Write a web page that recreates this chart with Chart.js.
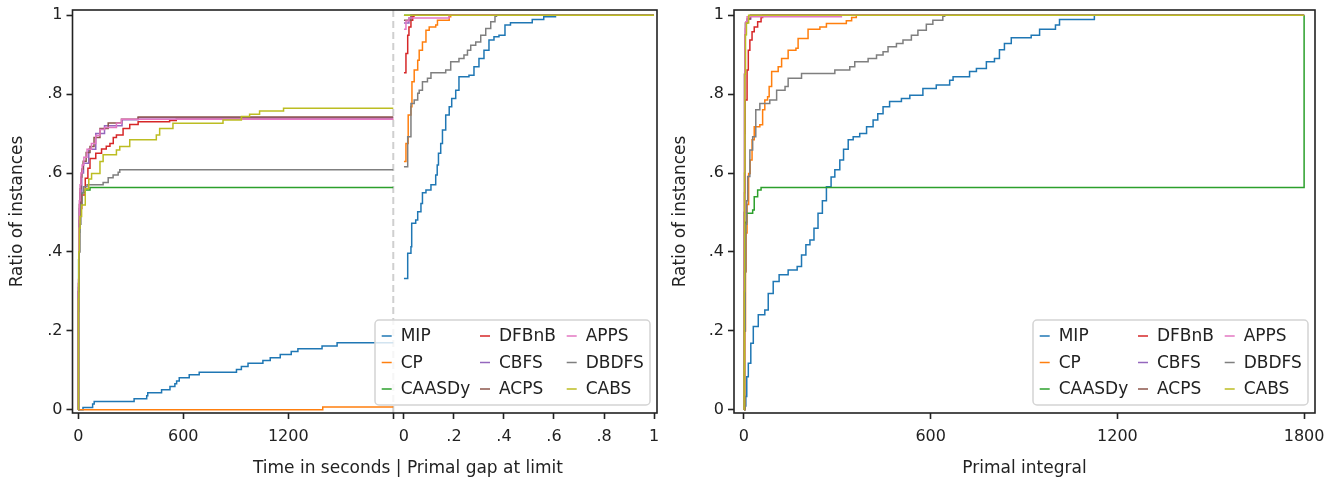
<!DOCTYPE html>
<html>
<head>
<meta charset="utf-8">
<title>Ratio of instances</title>
<script src="https://cdn.jsdelivr.net/npm/chart.js@4.4.0/dist/chart.umd.min.js"></script>
<style>
  html, body { margin: 0; padding: 0; background: #fff; }
  #wrap { position: relative; width: 1340px; height: 484px; }
  #leftChart { position: absolute; left: 0; top: 0; }
  #rightChart { position: absolute; left: 663px; top: 0; }
</style>
</head>
<body>
<div id="wrap">
  <canvas id="leftChart" width="663" height="484"></canvas>
  <canvas id="rightChart" width="677" height="484"></canvas>
</div>
<script>
/* ==========================================================================
   DATA
   ========================================================================== */
const methods = ['MIP', 'CP', 'CAASDy', 'DFBnB', 'CBFS', 'ACPS', 'APPS', 'DBDFS', 'CABS'];
const colors = ['#1f77b4', '#ff7f0e', '#2ca02c', '#d62728', '#9467bd', '#8c564b', '#e377c2', '#7f7f7f', '#bcbd22'];

const yTicks = [0, 0.2, 0.4, 0.6, 0.8, 1];
const timeTicks = [0, 600, 1200, 1800];
const gapTicks = [0, 0.2, 0.4, 0.6, 0.8, 1];
const integralTicks = [0, 600, 1200, 1800];

// left panel, first part: [seconds, ratio solved]
const timeMIP = [[0,0],[27,.006],[82,.015],[91,.021],[319,.028],[391,.036],[397,.043],[476,.051],[524,.059],[552,.066],[562,.073],[577,.081],[634,.089],[691,.095],[904,.102],[932,.110],[970,.118],[1055,.125],[1097,.132],[1154,.140],[1217,.148],[1255,.155],[1393,.162],[1479,.170],[1800,.170]];
const timeCP = [[0,0],[1397,.007],[1800,.007]];
const timeCAASDy = [[0,0],[1,.25],[2,.38],[4,.45],[8,.50],[12,.53],[20,.55],[40,.557],[67,.563],[1800,.563]];
const timeDFBnB = [[0,0],[1,.30],[3,.42],[6,.48],[11,.51],[20,.544],[40,.587],[55,.612],[67,.637],[100,.650],[133,.661],[160,.668],[181,.675],[200,.690],[218,.696],[256,.713],[294,.723],[342,.730],[522,.733],[560,.736],[1800,.736]];
const timeCBFS = [[0,0],[1,.31],[3,.44],[6,.51],[10,.55],[20,.60],[30,.625],[60,.66],[100,.70],[150,.72],[250,.735],[342,.740],[1800,.740]];
const timeACPS = [[0,0],[1,.32],[3,.45],[6,.52],[10,.56],[15,.59],[20,.61],[28,.63],[45,.652],[67,.667],[90,.690],[124,.713],[171,.727],[247,.736],[342,.742],[1800,.742]];
const timeAPPS = [[0,0],[1,.33],[3,.46],[6,.53],[10,.57],[15,.60],[22,.62],[32,.64],[50,.66],[75,.675],[100,.695],[124,.710],[150,.715],[218,.726],[247,.736],[1800,.736]];
const timeDBDFS = [[0,0],[2,.30],[5,.40],[10,.47],[15,.52],[22,.55],[30,.565],[50,.570],[142,.576],[171,.588],[199,.595],[228,.602],[237,.608],[1800,.608]];
const timeCABS = [[0,0],[1,.28],[3,.40],[6,.46],[10,.49],[19,.519],[40,.56],[60,.585],[76,.599],[124,.629],[142,.646],[218,.658],[237,.667],[294,.684],[446,.696],[465,.713],[541,.726],[827,.734],[932,.743],[979,.749],[1036,.757],[1173,.764],[1800,.764]];

// left panel, second part: [primal gap at limit, ratio]
const gapMIP = [[0,.333],[.015,.397],[.028,.413],[.031,.473],[.047,.481],[.055,.502],[.068,.523],[.074,.550],[.088,.557],[.108,.570],[.127,.595],[.133,.620],[.138,.650],[.147,.675],[.154,.709],[.167,.747],[.181,.768],[.191,.789],[.207,.810],[.220,.844],[.260,.848],[.280,.869],[.300,.890],[.320,.911],[.340,.937],[.360,.945],[.380,.949],[.404,.975],[.426,.981],[.513,.989],[.559,.996],[.606,1],[1,1]];
const gapCP = [[0,.629],[.008,.675],[.017,.747],[.028,.768],[.032,.831],[.041,.861],[.055,.886],[.061,.911],[.074,.932],[.088,.962],[.101,.970],[.127,.975],[.134,.987],[.181,.996],[.187,1],[1,1]];
const gapCAASDy = [[0,1],[1,1]];
const gapDFBnB = [[0,.854],[.008,.903],[.015,.949],[.020,.970],[.028,.987],[.035,.997],[.040,1],[1,1]];
const gapCBFS = [[0,.980],[.020,.993],[.030,1],[1,1]];
const gapACPS = [[0,.987],[.028,1],[1,1]];
const gapAPPS = [[0,.964],[.008,.985],[.020,.993],[.180,1],[1,1]];
const gapDBDFS = [[0,.616],[.015,.692],[.028,.776],[.041,.785],[.055,.802],[.061,.810],[.074,.831],[.094,.840],[.108,.854],[.167,.861],[.187,.882],[.220,.890],[.240,.899],[.254,.911],[.267,.924],[.287,.932],[.307,.949],[.327,.966],[.347,.983],[.364,.997],[.370,1],[1,1]];
const gapCABS = [[0,1],[1,1]];

// right panel: [primal integral, ratio]
const integralMIP = [[0,0],[4,.010],[6,.034],[9,.084],[14,.118],[22,.169],[30,.211],[46,.241],[67,.253],[78,.295],[94,.325],[113,.342],[142,.354],[171,.363],[185,.392],[199,.418],[212,.430],[225,.460],[238,.498],[252,.530],[265,.565],[280,.590],[292,.608],[308,.633],[320,.660],[335,.684],[351,.692],[372,.700],[394,.717],[415,.734],[430,.750],[447,.768],[468,.781],[506,.789],[533,.797],[575,.814],[618,.823],[661,.835],[672,.844],[725,.857],[747,.865],[779,.882],[805,.890],[821,.912],[837,.928],[859,.943],[923,.949],[950,.964],[1001,.975],[1014,.989],[1126,1],[1800,1]];
const integralCP = [[0,0],[3,.20],[5,.35],[7,.448],[10,.52],[15,.599],[20,.633],[26,.684],[33,.717],[51,.722],[60,.760],[67,.785],[76,.793],[81,.819],[89,.857],[110,.869],[121,.890],[142,.911],[167,.916],[174,.941],[206,.964],[244,.970],[265,.979],[329,.986],[346,.994],[361,1],[1800,1]];
const integralCAASDy = [[0,0],[1,.20],[2,.35],[3,.45],[5,.475],[8,.498],[28,.506],[33,.540],[44,.557],[55,.563],[1800,1]];
const integralDFBnB = [[0,0],[1,.30],[2,.55],[3,.70],[4,.785],[10,.861],[14,.911],[19,.937],[26,.958],[33,.970],[44,.983],[55,.994],[60,1],[1800,1]];
const integralCBFS = [[0,0],[1,.50],[2,.85],[3,.95],[5,.98],[12,.99],[22,1],[1800,1]];
const integralACPS = [[0,0],[1,.50],[2,.85],[3,.95],[5,.98],[10,.99],[20,1],[1800,1]];
const integralAPPS = [[0,0],[1,.50],[2,.85],[3,.95],[4,.966],[6,.983],[10,.996],[313,1],[1800,1]];
const integralDBDFS = [[0,0],[2,.20],[4,.35],[6,.47],[9,.53],[12,.591],[19,.658],[28,.692],[38,.760],[51,.776],[83,.785],[105,.810],[132,.819],[142,.840],[185,.852],[292,.861],[340,.869],[356,.882],[399,.890],[426,.899],[447,.907],[463,.920],[490,.928],[511,.937],[538,.949],[559,.962],[586,.977],[607,.987],[639,.997],[645,1],[1800,1]];
const integralCABS = [[0,0],[0.5,.10],[1,.30],[2,.60],[3,.85],[5,.95],[8,.98],[15,1],[1800,1]];

const timeCurves = [timeMIP, timeCP, timeCAASDy, timeDFBnB, timeCBFS, timeACPS, timeAPPS, timeDBDFS, timeCABS];
const gapCurves = [gapMIP, gapCP, gapCAASDy, gapDFBnB, gapCBFS, gapACPS, gapAPPS, gapDBDFS, gapCABS];
const integralCurves = [integralMIP, integralCP, integralCAASDy, integralDFBnB, integralCBFS, integralACPS, integralAPPS, integralDBDFS, integralCABS];

/* ==========================================================================
   LAYOUT HELPERS
   ========================================================================== */
const FONT = '"DejaVu Sans", "Liberation Sans", sans-serif';
const INK = '#222';
const TITLE_SIZE = 17;
const TIME_MAX = 1800;
// gap part of the left axis lives after the time part on one linear scale
const GAP_START = 1861;
const GAP_SPAN = 1429;
const toGapUnit = g => GAP_START + g * GAP_SPAN;

Chart.defaults.font.family = FONT;
Chart.defaults.font.size = 16;
Chart.defaults.color = INK;

const fmt = v => (v === 0 ? '0' : v === 1 ? '1' : String(+v.toFixed(1)).replace(/^0/, ''));

const frame = {
    id: 'frame',
    afterDraw(chart) {
        const { ctx, chartArea: a } = chart;
        ctx.save();
        ctx.strokeStyle = INK;
        ctx.lineWidth = 1.6;
        ctx.strokeRect(a.left, a.top, a.right - a.left, a.bottom - a.top);
        ctx.restore();
    }
};

const legendBox = {
    id: 'legendBox',
    afterDatasetsDraw(chart) {
        const { ctx, chartArea: a } = chart;
        const w = 275, h = 85;
        const x0 = a.right - 7 - w, y0 = a.bottom - 8 - h;
        ctx.save();
        ctx.beginPath();
        ctx.roundRect(x0, y0, w, h, 4);
        ctx.fillStyle = 'rgba(255,255,255,0.8)';
        ctx.fill();
        ctx.strokeStyle = '#d4d4d4';
        ctx.lineWidth = 1.5;
        ctx.stroke();
        ctx.font = TITLE_SIZE + 'px ' + FONT;
        ctx.textBaseline = 'middle';
        ctx.textAlign = 'left';
        const colX = [6.7, 105, 191.7];
        methods.forEach((name, i) => {
            const col = Math.floor(i / 3), row = i % 3;
            const hx = x0 + colX[col];
            const cy = y0 + 16 + row * 26.5;
            ctx.strokeStyle = colors[i];
            ctx.lineWidth = 1.5;
            ctx.beginPath();
            ctx.moveTo(hx, cy);
            ctx.lineTo(hx + 10, cy);
            ctx.stroke();
            ctx.fillStyle = INK;
            ctx.fillText(name, hx + 19, cy + 1);
        });
        ctx.restore();
    }
};

// dashed separator between the time part and the gap part
const separator = {
    id: 'separator',
    beforeDatasetsDraw(chart) {
        const { ctx, chartArea: a, scales } = chart;
        const x = scales.x.getPixelForValue(TIME_MAX);
        ctx.save();
        ctx.strokeStyle = '#cfcfcf';
        ctx.lineWidth = 2;
        ctx.setLineDash([7, 4]);
        ctx.beginPath();
        ctx.moveTo(x, a.top);
        ctx.lineTo(x, a.bottom);
        ctx.stroke();
        ctx.restore();
    }
};

// x label of the left panel: the "|" sits on the break
const splitTitle = {
    id: 'splitTitle',
    afterDraw(chart) {
        const { ctx, scales } = chart;
        const xBreak = (scales.x.getPixelForValue(TIME_MAX) + scales.x.getPixelForValue(GAP_START)) / 2;
        ctx.save();
        ctx.font = TITLE_SIZE + 'px ' + FONT;
        ctx.fillStyle = INK;
        ctx.textBaseline = 'middle';
        ctx.textAlign = 'left';
        const start = xBreak - ctx.measureText('Time in seconds ').width - ctx.measureText('|').width / 2;
        ctx.fillText('Time in seconds | Primal gap at limit', start, chart.height - 15);
        ctx.restore();
    }
};

function lineSet(points, i, mapX) {
    return {
        label: methods[i],
        data: points.map(([x, y]) => ({ x: mapX(x), y })),
        borderColor: colors[i],
        borderWidth: 1.5,
        pointRadius: 0,
        stepped: true,
        fill: false,
        order: methods.length - i
    };
}

function yAxis(width) {
    return {
        type: 'linear',
        min: -0.008,
        max: 1.013,
        afterBuildTicks: s => { s.ticks = yTicks.map(v => ({ value: v })); },
        afterFit: s => { s.width = width; s.paddingTop = 0; s.paddingBottom = 0; },
        ticks: { callback: v => fmt(v), padding: 4, autoSkip: false },
        grid: { drawOnChartArea: false, tickLength: 6, tickWidth: 1.6, tickColor: INK, color: INK },
        border: { display: false },
        title: { display: true, text: 'Ratio of instances', font: { size: TITLE_SIZE }, padding: { top: 7, bottom: 0 } }
    };
}

function xAxis(min, max, tickValues, labelOf, title) {
    return {
        type: 'linear',
        min,
        max,
        afterBuildTicks: s => { s.ticks = tickValues.map(v => ({ value: v })); },
        afterFit: s => { s.height = 71; s.paddingLeft = 0; s.paddingRight = 0; },
        ticks: { callback: v => labelOf(v), padding: 8, autoSkip: false, maxRotation: 0 },
        grid: { drawOnChartArea: false, tickLength: 6, tickWidth: 1.6, tickColor: INK, color: INK },
        border: { display: false },
        title: title
            ? { display: true, text: title, font: { size: TITLE_SIZE }, padding: { top: 0, bottom: 5 } }
            : { display: false }
    };
}

const baseOptions = (scales, padRight) => ({
    responsive: false,
    animation: false,
    devicePixelRatio: 1,
    layout: { padding: { top: 10, right: padRight, bottom: 0, left: 0 } },
    plugins: { legend: { display: false }, tooltip: { enabled: false } },
    scales
});

/* ==========================================================================
   LEFT PANEL: time in seconds | primal gap at limit
   ========================================================================== */
const leftLabels = new Map();
timeTicks.forEach(t => leftLabels.set(t, t === TIME_MAX ? '' : String(t)));
gapTicks.forEach(g => leftLabels.set(toGapUnit(g), fmt(g)));

const leftSets = [];
methods.forEach((m, i) => {
    leftSets.push(lineSet(timeCurves[i], i, t => t));
    leftSets.push(lineSet(gapCurves[i], i, toGapUnit));
});

new Chart(document.getElementById('leftChart'), {
    type: 'line',
    data: { datasets: leftSets },
    options: baseOptions({
        x: xAxis(-33, 3307, [...leftLabels.keys()], v => leftLabels.get(v) ?? '', null),
        y: yAxis(72.5)
    }, 6),
    plugins: [separator, legendBox, frame, splitTitle]
});

/* ==========================================================================
   RIGHT PANEL: primal integral
   ========================================================================== */
new Chart(document.getElementById('rightChart'), {
    type: 'line',
    data: { datasets: integralCurves.map((pts, i) => lineSet(pts, i, p => p)) },
    options: baseOptions({
        x: xAxis(-32, 1835, integralTicks, v => String(v), 'Primal integral'),
        y: yAxis(71)
    }, 25),
    plugins: [legendBox, frame]
});
</script>
</body>
</html>
